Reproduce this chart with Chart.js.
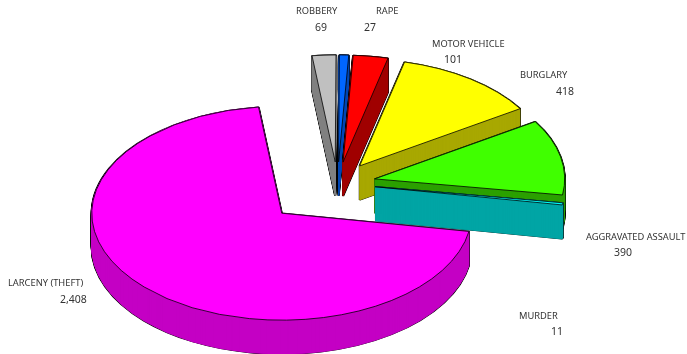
<!DOCTYPE html>
<html>
<head>
<meta charset="utf-8">
<style>
  body { margin: 0; background: #fff; }
  canvas { display: block; }
</style>
<script src="https://cdn.jsdelivr.net/npm/chart.js@4"></script>
</head>
<body>
<canvas id="chart" width="687" height="354"></canvas>
<script>
// clockwise, larceny first so the later slices paint over it
const categories = ["LARCENY (THEFT)", "ROBBERY", "RAPE", "MOTOR VEHICLE", "BURGLARY", "AGGRAVATED ASSAULT", "MURDER"];
const crimeCounts = [2408, 69, 27, 101, 418, 390, 11];
const countLabels = ["2,408", "69", "27", "101", "418", "390", "11"];
const topColors = ["#ff00ff", "#c0c0c0", "#0066ff", "#ff0000", "#ffff00", "#40ff00", "#00ffff"];
const wallColors = ["#c400c4", "#808080", "#0047b3", "#a00000", "#a8a800", "#2ca000", "#00a5a5"];
const explode = [77, 38, 38, 38, 38, 38, 38];

// [name x, name y, value x, value y]
const labelSpots = [
  [8, 283, 60, 300],
  [296, 11, 315, 28],
  [376, 11, 364, 28],
  [432, 44, 444, 60],
  [520, 75, 556, 92],
  [586, 237, 614, 253],
  [519, 316, 551, 332],
];

const CENTER_X = 337.5;
const CENTER_Y = 183.3;
const SQUASH = 0.563;
const DEPTH = 34;

function drawLayer(ctx, arc, i, drop, style) {
  const layer = Object.create(arc);
  layer.options = Object.assign({}, arc.options, style);
  const mid = (arc.startAngle + arc.endAngle) / 2;
  ctx.save();
  ctx.translate(CENTER_X, CENTER_Y + drop);
  ctx.scale(1, SQUASH);
  ctx.translate(Math.cos(mid) * explode[i] - arc.x, Math.sin(mid) * explode[i] - arc.y);
  layer.draw(ctx);
  ctx.restore();
}

const pie3d = {
  id: "pie3d",
  beforeDatasetDraw(chart, args) {
    const ctx = chart.ctx;
    args.meta.data.forEach((arc, i) => {
      // black sweep first, the wall sweep leaves only its rim showing
      for (let d = DEPTH; d >= 0; d--) {
        drawLayer(ctx, arc, i, d, { backgroundColor: "#000", borderColor: "#000", borderWidth: 2.2 });
      }
      // half steps so the antialiased edges don't leave streaks on the wall
      for (let d = DEPTH; d >= 0; d -= 0.5) {
        drawLayer(ctx, arc, i, d, { backgroundColor: wallColors[i], borderColor: wallColors[i], borderWidth: 1 });
      }
      drawLayer(ctx, arc, i, 0, { backgroundColor: topColors[i], borderColor: "#000", borderWidth: 1 });
    });
    return false;
  },
  afterDraw(chart) {
    const ctx = chart.ctx;
    ctx.save();
    ctx.fillStyle = "#333";
    ctx.textBaseline = "middle";
    categories.forEach((name, i) => {
      const spot = labelSpots[i];
      ctx.font = "9.3px 'Noto Sans'";
      ctx.fillText(name, spot[0], spot[1]);
      ctx.font = "10.5px 'Noto Sans'";
      ctx.fillText(countLabels[i], spot[2], spot[3]);
    });
    ctx.restore();
  },
};

new Chart(document.getElementById("chart"), {
  type: "pie",
  data: {
    labels: categories,
    datasets: [{ data: crimeCounts, backgroundColor: topColors }],
  },
  options: {
    responsive: false,
    animation: false,
    rotation: 99.8,
    radius: 190,
    plugins: { legend: { display: false }, tooltip: { enabled: false } },
  },
  plugins: [pie3d],
});
</script>
</body>
</html>
